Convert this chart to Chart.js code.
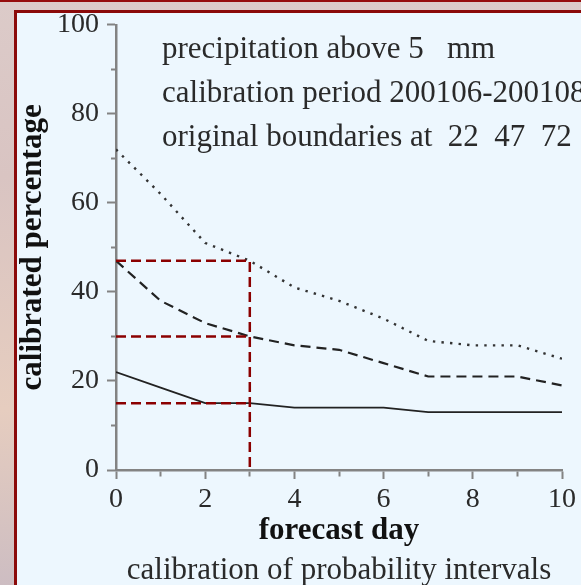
<!DOCTYPE html>
<html>
<head>
<meta charset="utf-8">
<script src="https://cdn.jsdelivr.net/npm/chart.js@4.4.1/dist/chart.umd.min.js"></script>
<style>
  html, body { margin: 0; padding: 0; }
  body {
    width: 581px; height: 585px; overflow: hidden; position: relative;
    background: linear-gradient(180deg, #dccbc9 0%, #d9c4c2 30%, #e6cdbf 70%, #cdbdc2 100%);
  }
  .rim { position: absolute; left: 0; top: 0; width: 581px; height: 2px; background: #960d0d; }
  .panel {
    position: absolute; left: 14px; top: 10px; right: 0; bottom: 0;
    background: #edf7fe;
    border-left: 3px solid #8b0a0a; border-top: 3px solid #8b0a0a;
  }
  #chart { position: absolute; left: 0; top: 0; }
</style>
</head>
<body>
<div class="rim"></div>
<div class="panel"></div>
<canvas id="chart" width="581" height="585"></canvas>
<script>
// forecast days on the x axis
const days = [0, 1, 2, 3, 4, 5, 6, 7, 8, 9, 10];

// calibrated percentage for each original boundary (72 / 47 / 22)
const upperPct  = [72, 62, 51, 47, 41, 38, 34, 29, 28, 28, 25];
const middlePct = [47, 38, 33, 30, 28, 27, 24, 21, 21, 21, 19];
const lowerPct  = [22, 18.5, 15, 15, 14, 14, 14, 13, 13, 13, 13];

const guideDay = 3;
const guideLevels = [47, 30, 15];

const noteLines = [
  'precipitation above 5   mm',
  'calibration period 200106-200108',
  'original boundaries at  22  47  72'
];

const serif = '"Liberation Serif", "Times New Roman", serif';
const ink = '#2a2a2a';
const axisGrey = '#838383';
const guideRed = '#8b0000';

const pts = vals => days.map((d, i) => ({ x: d, y: vals[i] }));

// guide datasets: the highest level also drops down to the x axis
const guideSets = guideLevels.map((lv, i) => {
  const data = [{ x: 0, y: lv }, { x: guideDay, y: lv }];
  if (i === 0) data.push({ x: guideDay, y: 0 });
  return {
    data,
    borderColor: guideRed,
    borderWidth: 2.5,
    borderDash: [10, 5],
    pointRadius: 0
  };
});

const seriesSets = [
  { data: pts(upperPct), borderColor: '#333', borderWidth: 2.4, borderDash: [2.4, 6.2], pointRadius: 0 },
  { data: pts(middlePct), borderColor: '#222', borderWidth: 2.2, borderDash: [10, 6], pointRadius: 0 },
  { data: pts(lowerPct), borderColor: '#222', borderWidth: 1.8, pointRadius: 0 }
];

// text block in the upper right of the plot
const notesPlugin = {
  id: 'notes',
  afterDraw(chart) {
    const { ctx, chartArea } = chart;
    ctx.save();
    ctx.font = '31px ' + serif;
    ctx.fillStyle = ink;
    ctx.textBaseline = 'alphabetic';
    ctx.textAlign = 'left';
    noteLines.forEach((t, i) => {
      ctx.fillText(t, chartArea.left + 46, chartArea.top + 33 + i * 44);
    });
    ctx.restore();
  }
};

// minor ticks are shorter: show only the 5px nearest the axis
const minorDash = (isLeft, every) => ctx => {
  if (!ctx.tick || ctx.tick.value % every === 0) return [];
  return isLeft ? [0, 4, 5, 40] : [5, 40];
};

new Chart(document.getElementById('chart'), {
  type: 'line',
  data: { datasets: guideSets.concat(seriesSets) },
  plugins: [notesPlugin],
  options: {
    responsive: false,
    animation: false,
    devicePixelRatio: 1,
    layout: { padding: { left: 0, right: 19, top: 24, bottom: 0 } },
    plugins: {
      legend: { display: false },
      tooltip: { enabled: false },
      subtitle: {
        display: true,
        position: 'bottom',
        fullSize: false,
        text: 'calibration of probability intervals',
        color: ink,
        font: { family: serif, size: 31, weight: 'normal', lineHeight: 1 },
        padding: { top: 0, bottom: -1 }
      }
    },
    scales: {
      x: {
        type: 'linear',
        min: 0,
        max: 10,
        afterFit: s => { s.height = 85; },
        border: { display: true, color: axisGrey, width: 2.5 },
        grid: {
          drawOnChartArea: false,
          drawTicks: true,
          tickLength: 9,
          tickColor: axisGrey,
          tickWidth: 2,
          tickBorderDash: minorDash(false, 2)
        },
        ticks: {
          stepSize: 1,
          autoSkip: false,
          maxRotation: 0,
          padding: 4,
          color: ink,
          font: { family: serif, size: 28 },
          callback: v => (v % 2 === 0 ? v : '')
        },
        title: {
          display: true,
          text: 'forecast day',
          color: '#111',
          font: { family: serif, size: 31, weight: 'bold' },
          padding: { top: 0, bottom: 5 }
        }
      },
      y: {
        min: 0,
        max: 100,
        afterFit: s => { s.width = 116; },
        border: { display: true, color: axisGrey, width: 2.5 },
        grid: {
          drawOnChartArea: false,
          drawTicks: true,
          tickLength: 9,
          tickColor: axisGrey,
          tickWidth: 2,
          tickBorderDash: minorDash(true, 20)
        },
        ticks: {
          stepSize: 10,
          autoSkip: false,
          padding: 8,
          color: ink,
          font: { family: serif, size: 28 },
          callback: v => (v % 20 === 0 ? v : '')
        },
        title: {
          display: true,
          text: 'calibrated percentage',
          color: '#111',
          font: { family: serif, size: 31, weight: 'bold' },
          padding: { top: 14, bottom: 0 }
        }
      }
    }
  }
});
</script>
</body>
</html>
